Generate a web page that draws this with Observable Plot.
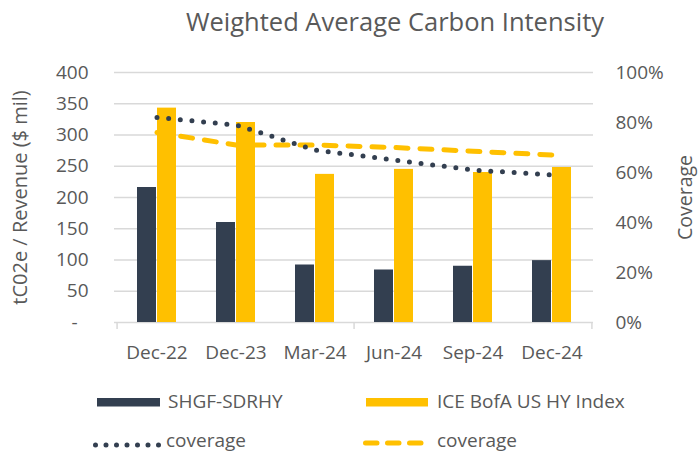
<!DOCTYPE html>
<html>
<head>
<meta charset="utf-8">
<script src="https://cdn.jsdelivr.net/npm/d3@7"></script>
<script src="https://cdn.jsdelivr.net/npm/@observablehq/plot@0.6"></script>
<style>
  html, body { margin: 0; padding: 0; background: #fff; }
  #wrap { position: relative; width: 698px; height: 452px; overflow: hidden; font-family: "Open Sans", sans-serif; color: #595959; }
  #title { position: absolute; left: 0; top: 9px; width: 790px; text-align: center; font-size: 25.5px; line-height: 25.5px; color: #595959; white-space: nowrap; }
  #chart { position: absolute; left: 0; top: 50px; }
  #legend { position: absolute; left: 0; top: 380px; }
</style>
</head>
<body>
<div id="wrap">
  <div id="title">Weighted Average Carbon Intensity</div>
  <div id="chart"></div>
  <div id="legend"></div>
</div>
<script>
const categories = ["Dec-22", "Dec-23", "Mar-24", "Jun-24", "Sep-24", "Dec-24"];
const shgfValues = [216, 160, 92, 84, 90, 99];
const iceValues = [343, 320, 237, 245, 240, 248];
const shgfCoverage = [82, 79, 69, 65, 61, 59];
const iceCoverage = [76, 71, 71, 70, 68.5, 67];
const yTicks = [0, 50, 100, 150, 200, 250, 300, 350, 400];
const coverageTicks = [0, 20, 40, 60, 80, 100];
const seriesNames = ["SHGF-SDRHY", "ICE BofA US HY Index"];
const lineNames = ["coverage", "coverage"];
const yLabel = "tC02e / Revenue ($ mil)";
const y2Label = "Coverage";

const DARK = "#333F50";
const GOLD = "#FFC000";
const GRID = "#D9D9D9";
const TEXT = "#595959";

const rows = categories.map((c, i) => ({
  cat: c, shgf: shgfValues[i], ice: iceValues[i],
  shgfCov: shgfCoverage[i], iceCov: iceCoverage[i]
}));
const covToY = p => p * 4; // 100% -> 400 on the shared y scale

const W = 698, H = 330, ML = 114, MR = 105;
const bw = (W - ML - MR) / categories.length;

const chart = Plot.plot({
  width: W, height: H,
  marginLeft: ML, marginRight: MR, marginTop: 22, marginBottom: 58,
  style: { fontFamily: "Open Sans, sans-serif", fontSize: "19px", color: TEXT, background: "#fff", overflow: "visible" },
  x: { domain: categories, padding: 0, axis: null },
  y: { domain: [0, 400], axis: null },
  marks: [
    Plot.gridY(yTicks.filter(d => d > 0), { stroke: GRID, strokeOpacity: 1, strokeWidth: 1.5 }),
    Plot.ruleY([0], { stroke: GRID, strokeWidth: 1.5 }),
    Plot.ruleX([categories[0], categories[3]], { x: d => d, dx: -bw / 2, y1: 0, y2: -11, stroke: GRID, strokeWidth: 1.5 }),
    Plot.ruleX([categories[5]], { x: d => d, dx: bw / 2, y1: 0, y2: -11, stroke: GRID, strokeWidth: 1.5 }),
    Plot.barY(rows, { x: "cat", y: "shgf", fill: DARK, insetLeft: 20, insetRight: 40 }),
    Plot.barY(rows, { x: "cat", y: "ice", fill: GOLD, insetLeft: 40, insetRight: 20 }),
    Plot.line(rows, { x: "cat", y: d => covToY(d.iceCov), stroke: GOLD, strokeWidth: 5, strokeDasharray: "12,12", strokeLinecap: "round" }),
    Plot.line(rows, { x: "cat", y: d => covToY(d.shgfCov), stroke: DARK, strokeWidth: 5, strokeDasharray: "0,11.7", strokeLinecap: "round" }),
    Plot.axisY(yTicks, { anchor: "left", tickSize: 0, tickPadding: 26, label: null,
      tickFormat: d => d === 0 ? "-\u2007" : String(d) }),
    Plot.axisY(coverageTicks.map(covToY), { anchor: "right", tickSize: 0, tickPadding: 22, label: null,
      tickFormat: d => (d / 4) + "%" }),
    Plot.axisX(categories, { tickSize: 0, tickPadding: 23, label: null }),
    Plot.text([yLabel], { text: d => d, frameAnchor: "left", textAnchor: "middle", rotate: -90, dx: -94, fill: TEXT, fontSize: 20 }),
    Plot.text([y2Label], { text: d => d, frameAnchor: "right", textAnchor: "middle", rotate: -90, dx: 92, fill: TEXT, fontSize: 19.5 })
  ]
});
document.getElementById("chart").appendChild(chart);

// Legend (drawn as a small SVG below the chart)
const NS = "http://www.w3.org/2000/svg";
const leg = document.createElementNS(NS, "svg");
leg.setAttribute("width", 698);
leg.setAttribute("height", 72);
leg.style.fontFamily = "Open Sans, sans-serif";
leg.style.fontSize = "19px";
function el(tag, attrs, text) {
  const e = document.createElementNS(NS, tag);
  for (const k in attrs) e.setAttribute(k, attrs[k]);
  if (text != null) e.textContent = text;
  leg.appendChild(e);
  return e;
}
el("rect", { x: 97, y: 18, width: 63, height: 8.5, fill: DARK });
el("text", { x: 168, y: 27.5, fill: TEXT }, seriesNames[0]);
el("rect", { x: 366, y: 18, width: 62, height: 8.5, fill: GOLD });
el("text", { x: 437, y: 27.5, fill: TEXT }, seriesNames[1]);
el("line", { x1: 95.5, y1: 65, x2: 160, y2: 65, stroke: DARK, "stroke-width": 5, "stroke-linecap": "round", "stroke-dasharray": "0,10.5" });
el("text", { x: 166, y: 67, fill: TEXT }, lineNames[0]);
el("line", { x1: 365.5, y1: 63, x2: 426, y2: 63, stroke: GOLD, "stroke-width": 5, "stroke-linecap": "round", "stroke-dasharray": "11.5,10.5" });
el("text", { x: 437, y: 67, fill: TEXT }, lineNames[1]);
document.getElementById("legend").appendChild(leg);
</script>
</body>
</html>
